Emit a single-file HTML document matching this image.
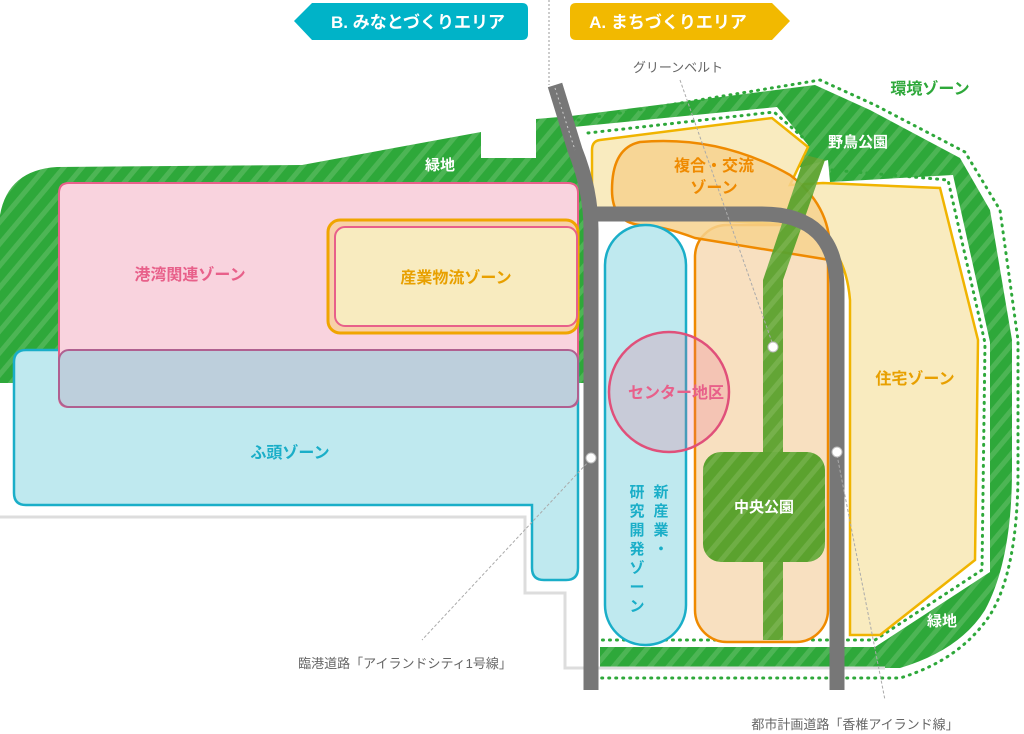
<!DOCTYPE html>
<html><head><meta charset="utf-8"><style>
html,body{margin:0;padding:0;background:#fff;width:1024px;height:734px;overflow:hidden}
svg{display:block}
text{font-family:"Liberation Sans","Noto Sans CJK JP",sans-serif;font-weight:bold}
</style></head><body>
<svg width="1024" height="734" viewBox="0 0 1024 734" xmlns="http://www.w3.org/2000/svg">
<defs>
<pattern id="st" width="14" height="14" patternUnits="userSpaceOnUse" patternTransform="rotate(40)">
<rect width="14" height="14" fill="#2ea83a"/><rect width="5" height="14" fill="#4db555"/></pattern>
<pattern id="st2" width="14" height="14" patternUnits="userSpaceOnUse" patternTransform="rotate(40)">
<rect width="14" height="14" fill="#5ba22e"/><rect width="5" height="14" fill="#6fae45"/></pattern>
</defs>

<!-- banners -->
<path d="M294,21 L312,3 L522,3 Q528,3 528,9 L528,34 Q528,40 522,40 L312,40 Z" fill="#00b3c8"/>
<text x="418" y="28" fill="#fff" font-size="17" text-anchor="middle">B. みなとづくりエリア</text>
<path d="M576,3 L772,3 L790,21 L772,40 L576,40 Q570,40 570,34 L570,9 Q570,3 576,3 Z" fill="#f2b900"/>
<text x="668" y="28" fill="#fff" font-size="17" text-anchor="middle">A. まちづくりエリア</text>
<line x1="549" y1="0" x2="549" y2="85" stroke="#999" stroke-width="1" stroke-dasharray="2,2"/>

<!-- land outlines -->
<path d="M0,383 L0,215 Q8,170 57,167 L302,165 L481,132 L481,158 L536,158 L536,119 L571,116 L815,85 L870,110 L960,158 L990,210 L1012,340 L1012,470 Q1012,560 985,610 Q960,650 900,668 L600,668 L600,383 Z" fill="url(#st)"/>
<path d="M0,517 L525,517 L525,593 L565,593 L565,668 L885,668" fill="none" stroke="#ddd" stroke-width="3"/>
<!-- inner white right -->
<path d="M573,127 L777,107 L808,145 L790,170 L828,160 L830,182 L953,175 L990,342 L990,572 L875,647 L600,647 L595,215 Z" fill="#fff"/>
<!-- dotted outlines -->
<path d="M578,120 L820,80 L875,105 L965,152 L1000,210 L1018,340 L1018,470 Q1018,570 990,615 Q960,660 900,678 L600,678" fill="none" stroke="#2ea83a" stroke-width="3" stroke-dasharray="1,6" stroke-linecap="round"/>
<path d="M588,133 L774,112 L808,142 M832,170 L948,180 L985,343 L982,570 L875,640 L598,640" fill="none" stroke="#2ea83a" stroke-width="3" stroke-dasharray="1,6" stroke-linecap="round"/>

<!-- yellow top region & 住宅 -->
<path d="M600,140 L772,118 L808,147 L790,185 L823,183 L940,188 L978,340 L975,560 L880,635 L850,635 L850,300 Q845,240 800,225 L610,215 Q592,210 592,200 L592,150 Q592,141 600,140 Z" fill="#f9ebbf" stroke="#f0b400" stroke-width="2.5"/>
<!-- centre orange rect -->
<rect x="695" y="225" width="133" height="417" rx="32" fill="#f8e0c0" stroke="#ef8a00" stroke-width="2.5"/>
<!-- 複合交流 blob -->
<path d="M640,142 Q720,135 790,175 Q830,205 830,250 L830,260 L695,238 Q660,225 640,225 Q612,222 612,190 Q612,148 640,142 Z" fill="#f7d28e" fill-opacity="0.85" stroke="#ef8a00" stroke-width="2.5"/>

<!-- 新産業 pill -->
<rect x="605" y="225" width="81" height="420" rx="40" fill="#bfe9ef" stroke="#1aaec8" stroke-width="2.5"/>

<!-- green belt -->
<path d="M805,155 L825,160 L783,280 L783,640 L763,640 L763,280 Z" fill="url(#st2)" opacity="0.95"/>
<rect x="703" y="452" width="122" height="110" rx="18" fill="url(#st2)"/>

<!-- roads -->
<path d="M555,85 L575,150 Q591,190 591,230 L591,690" fill="none" stroke="#777" stroke-width="15"/>
<path d="M591,214 L762,214 Q837,214 837,289 L837,690" fill="none" stroke="#777" stroke-width="15"/>
<path d="M555,88 L575,150" stroke="#ccc" stroke-width="1" stroke-dasharray="2,3"/>

<!-- left zones -->
<path d="M26,350 L566,350 Q578,350 578,362 L578,568 Q578,580 566,580 L544,580 Q532,580 532,568 L532,505 L26,505 Q14,505 14,493 L14,362 Q14,350 26,350 Z" fill="#bfe9ef" stroke="#1aaec8" stroke-width="2.5"/>
<path d="M69,183 L568,183 Q578,183 578,193 L578,397 Q578,407 568,407 L69,407 Q59,407 59,397 L59,193 Q59,183 69,183 Z" fill="#f9d3de" stroke="#e8608a" stroke-width="2"/>
<rect x="59" y="350" width="519" height="57" rx="10" fill="#bdcfdc" stroke="#b06090" stroke-width="2"/>
<rect x="328" y="220" width="250" height="113" rx="12" fill="#f8d0a8" stroke="#f0a500" stroke-width="3"/>
<rect x="335" y="227" width="242" height="99" rx="10" fill="#f8ebbf" stroke="#e8608a" stroke-width="2"/>

<!-- centre circle -->
<circle cx="669" cy="392" r="60" fill="#e8608a" fill-opacity="0.22" stroke="#e0507a" stroke-width="2.5"/>

<!-- leaders -->
<g stroke="#aaa" stroke-width="1" stroke-dasharray="3,2" fill="none">
<line x1="680" y1="80" x2="773" y2="345"/>
<line x1="590" y1="460" x2="422" y2="640"/>
<line x1="837" y1="455" x2="885" y2="700"/>
</g>
<g fill="#fff" stroke="#bbb" stroke-width="1">
<circle cx="591" cy="458" r="5"/><circle cx="837" cy="452" r="5"/><circle cx="773" cy="347" r="5"/>
</g>

<!-- labels -->
<g font-size="15">
<text x="440" y="170" fill="#fff" text-anchor="middle">緑地</text>
<text x="190" y="280" fill="#e8608a" text-anchor="middle" font-size="16">港湾関連ゾーン</text>
<text x="456" y="283" fill="#e8a000" text-anchor="middle" font-size="16">産業物流ゾーン</text>
<text x="290" y="458" fill="#1aaec8" text-anchor="middle" font-size="16">ふ頭ゾーン</text>
<text x="714" y="171" fill="#ef8a00" text-anchor="middle" font-size="16">複合・交流</text>
<text x="714" y="193" fill="#ef8a00" text-anchor="middle" font-size="16">ゾーン</text>
<text x="676" y="398" fill="#e8608a" text-anchor="middle" font-size="16">センター地区</text>
<text x="915" y="384" fill="#e8a000" text-anchor="middle" font-size="16">住宅ゾーン</text>
<text x="764" y="512" fill="#fff" text-anchor="middle">中央公園</text>
<text x="858" y="147" fill="#fff" text-anchor="middle">野鳥公園</text>
<text x="930" y="94" fill="#2ea83a" text-anchor="middle" font-size="16">環境ゾーン</text>
<text x="942" y="626" fill="#fff" text-anchor="middle">緑地</text>
<text font-size="15" fill="#1aaec8" text-anchor="middle"><tspan x="661" y="497">新</tspan><tspan x="661" y="516">産</tspan><tspan x="661" y="535">業</tspan><tspan x="661" y="554">・</tspan></text>
<text font-size="15" fill="#1aaec8" text-anchor="middle"><tspan x="637" y="497">研</tspan><tspan x="637" y="516">究</tspan><tspan x="637" y="535">開</tspan><tspan x="637" y="554">発</tspan><tspan x="637" y="573">ゾ</tspan><tspan x="637" y="592">ー</tspan><tspan x="637" y="611">ン</tspan></text>
</g>
<g font-size="13" fill="#666">
<text x="678" y="72" text-anchor="middle" style="font-weight:normal">グリーンベルト</text>
<text x="405" y="668" text-anchor="middle" style="font-weight:normal">臨港道路「アイランドシティ1号線」</text>
<text x="855" y="729" text-anchor="middle" style="font-weight:normal">都市計画道路「香椎アイランド線」</text>
</g>
</svg>
</body></html>
